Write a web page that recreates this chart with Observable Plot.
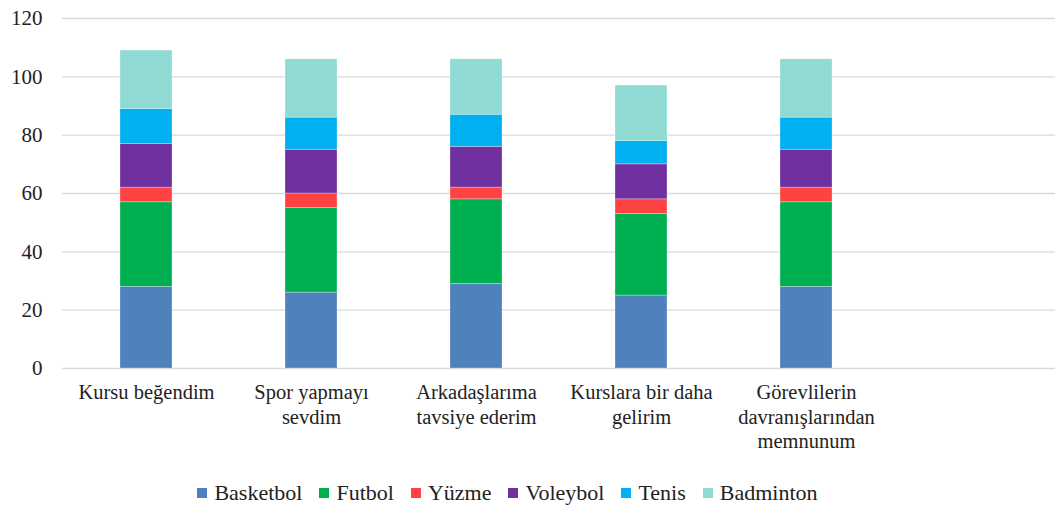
<!DOCTYPE html>
<html>
<head>
<meta charset="utf-8">
<script src="https://cdn.jsdelivr.net/npm/d3@7"></script>
<script src="https://cdn.jsdelivr.net/npm/@observablehq/plot@0.6"></script>
<style>
  html, body { margin: 0; padding: 0; background: #fff; }
  body { font-family: 'Liberation Serif', serif; }
  .legend { display: flex; justify-content: center; align-items: center; height: 46px; padding-right: 40px; font-size: 22px; color: #222; font-family: 'Liberation Serif', serif; }
  .item { display: flex; align-items: center; margin: 0 8.5px; }
  .sw { width: 10px; height: 10px; margin-right: 7px; }
</style>
</head>
<body>
<div id="chart"></div>
<div class="legend" id="legend">
  <div class="item"><div class="sw"></div><span>Basketbol</span></div>
  <div class="item"><div class="sw"></div><span>Futbol</span></div>
  <div class="item"><div class="sw"></div><span>Yüzme</span></div>
  <div class="item"><div class="sw"></div><span>Voleybol</span></div>
  <div class="item"><div class="sw"></div><span>Tenis</span></div>
  <div class="item"><div class="sw"></div><span>Badminton</span></div>
</div>
<script>
const categories = ["Kursu beğendim", "Spor yapmayı\nsevdim", "Arkadaşlarıma\ntavsiye ederim", "Kurslara bir daha\ngelirim", "Görevlilerin\ndavranışlarından\nmemnunum"];
const emptySlot = " ";
const seriesNames = ["Basketbol", "Futbol", "Yüzme", "Voleybol", "Tenis", "Badminton"];
const basketbol = [28, 26, 29, 25, 28];
const futbol    = [29, 29, 29, 28, 29];
const yuzme     = [5, 5, 4, 5, 5];
const voleybol  = [15, 15, 14, 12, 13];
const tenis     = [12, 11, 11, 8, 11];
const badminton = [20, 20, 19, 19, 20];
const yTicks = [0, 20, 40, 60, 80, 100, 120];
const colors = ["#4F81BD", "#00B050", "#FF4343", "#7030A0", "#00B0F0", "#8FDBD3"];

const seriesValues = [basketbol, futbol, yuzme, voleybol, tenis, badminton];
const data = [];
seriesNames.forEach((s, i) => {
  categories.forEach((c, j) => data.push({category: c, series: s, value: seriesValues[i][j]}));
});

const plot = Plot.plot({
  width: 1055,
  height: 470,
  marginLeft: 62,
  marginRight: 0,
  marginTop: 18,
  marginBottom: 102,
  style: {fontFamily: "Liberation Serif", fontSize: "20px", background: "#fff"},
  x: {domain: [...categories, emptySlot], paddingInner: 0.686, paddingOuter: 0.343, axis: null},
  y: {domain: [0, 120], ticks: yTicks},
  color: {domain: seriesNames, range: colors},
  marks: [
    Plot.ruleY(yTicks, {stroke: "#d9d9d9", strokeWidth: 1.4}),
    Plot.barY(data, Plot.stackY({x: "category", y: "value", fill: "series", order: seriesNames, stroke: "#fff", strokeOpacity: 0.35, strokeWidth: 0.8})),
    Plot.axisY({ticks: yTicks, tickSize: 0, tickPadding: 20, fontSize: 21, fontFamily: "Liberation Serif", fill: "#222", label: null}),
    Plot.text(categories, {x: d => d, y: () => 0, text: d => d, lineAnchor: "top", dy: 13, lineHeight: 1.2, fontSize: 20.5, fontFamily: "Liberation Serif", fill: "#222"})
  ]
});
plot.setAttribute("font-family", "Liberation Serif");
document.getElementById("chart").appendChild(plot);

const items = document.querySelectorAll("#legend .item");
items.forEach((it, i) => {
  it.querySelector(".sw").style.background = colors[i];
  it.querySelector("span").textContent = seriesNames[i];
});
</script>
</body>
</html>
